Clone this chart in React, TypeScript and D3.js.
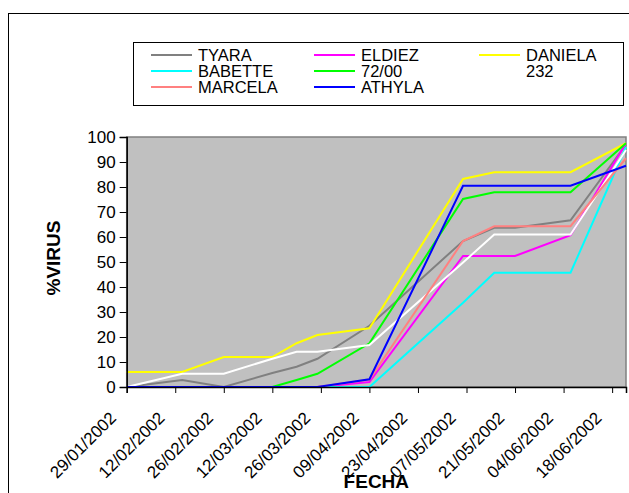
import { useEffect, useRef } from "react";
import * as d3 from "d3";

const fechas = [
  "29/01/2002", "14/02/2002", "26/02/2002", "12/03/2002", "19/03/2002", "25/03/2002",
  "09/04/2002", "06/05/2002", "15/05/2002", "21/05/2002", "06/06/2002", "22/06/2002",
];

const tickFechas = [
  "29/01/2002", "12/02/2002", "26/02/2002", "12/03/2002", "26/03/2002", "09/04/2002",
  "23/04/2002", "07/05/2002", "21/05/2002", "04/06/2002", "18/06/2002",
];

const tyara = [0, 2.8, 0, 5.6, 8.1, 11.3, 24.5, 58.4, 63.7, 63.7, 66.7, 97];
const eldiez = [0, 0, 0, 0, 0, 0, 2, 52.4, 52.4, 52.4, 60.7, 97.5];
const daniela = [6, 6, 12, 12, 17.5, 20.8, 23.5, 83.2, 85.9, 85.9, 85.9, 97.5];
const babette = [0, 0, 0, 0, 0, 0, 0, 33.7, 45.7, 45.7, 45.7, 96];
const s7200 = [0, 0, 0, 0, 2.8, 5.3, 17.5, 75.2, 77.9, 77.9, 77.9, 97.5];
const s232 = [0, 5.3, 5.3, 11.3, 14.1, 14.1, 16.8, 49.8, 61, 61, 61, 94.8];
const marcela = [0, 0, 0, 0, 0, 0, 3, 58.4, 64.3, 64.3, 64.3, 91.5];
const athyla = [0, 0, 0, 0, 0, 0, 3.1, 80.5, 80.5, 80.5, 80.5, 88.5];

const seriesNames = ["TYARA", "ELDIEZ", "DANIELA", "BABETTE", "72/00", "232", "MARCELA", "ATHYLA"];
const seriesValues = [tyara, eldiez, daniela, babette, s7200, s232, marcela, athyla];
const seriesColors = ["#808080", "#ff00ff", "#ffff00", "#00ffff", "#00ff00", "#ffffff", "#ff8080", "#0000ff"];

const yTicks = [0, 10, 20, 30, 40, 50, 60, 70, 80, 90, 100];

export default function App() {
  const ref = useRef<SVGSVGElement>(null);

  useEffect(() => {
    if (!ref.current) return;
    const svg = d3.select(ref.current);
    svg.selectAll("*").remove();

    const font = "'Liberation Sans', Arial, sans-serif";
    const parse = d3.utcParse("%d/%m/%Y");
    const fmt = d3.utcFormat("%d/%m/%Y");
    const dates = fechas.map((d) => parse(d) as Date);
    const ticks = tickFechas.map((d) => parse(d) as Date);

    const plot = { left: 126.7, right: 626, top: 137, bottom: 387 };

    // outer chart frame (runs off the picture on the right and bottom)
    svg.append("rect")
      .attr("x", 8.5).attr("y", 13.5)
      .attr("width", 640).attr("height", 500)
      .attr("fill", "#fff").attr("stroke", "#000").attr("stroke-width", 1);

    const x = d3.scaleUtc()
      .domain([dates[0], dates[dates.length - 1]])
      .range([plot.left, plot.right]);
    const y = d3.scaleLinear().domain([0, 100]).range([plot.bottom, plot.top]);

    svg.append("rect")
      .attr("x", plot.left).attr("y", plot.top)
      .attr("width", plot.right - plot.left).attr("height", plot.bottom - plot.top)
      .attr("fill", "#c0c0c0").attr("stroke", "#808080").attr("stroke-width", 1.5);

    const line = d3.line<number>()
      .x((_, i) => x(dates[i]))
      .y((d) => y(d));

    seriesValues.forEach((vals, i) => {
      svg.append("path")
        .datum(vals)
        .attr("d", line)
        .attr("fill", "none")
        .attr("stroke", seriesColors[i])
        .attr("stroke-width", 2)
        .attr("stroke-linejoin", "miter");
    });

    // y axis
    const yAxis = svg.append("g")
      .attr("transform", `translate(${plot.left},0)`)
      .call(d3.axisLeft(y).tickValues(yTicks).tickSize(7).tickPadding(4));
    yAxis.select(".domain").attr("stroke", "#000").attr("stroke-width", 1.5);
    yAxis.selectAll(".tick line").attr("stroke", "#000");
    yAxis.selectAll("text")
      .attr("font-family", font).attr("font-size", 17).attr("fill", "#000");

    // x axis
    const xAxis = svg.append("g")
      .attr("transform", `translate(0,${plot.bottom})`)
      .call(d3.axisBottom(x).tickValues(ticks).tickSize(6).tickFormat((d) => fmt(d as Date)));
    xAxis.select(".domain").attr("stroke", "#000").attr("stroke-width", 1.5);
    xAxis.selectAll(".tick line").attr("stroke", "#000");
    xAxis.selectAll("text")
      .attr("font-family", font).attr("font-size", 17).attr("fill", "#000")
      .attr("text-anchor", "end")
      .attr("dy", null)
      .attr("y", null)
      .attr("transform", "translate(-10,32) rotate(-45)");

    svg.append("text")
      .attr("x", (plot.left + plot.right) / 2).attr("y", 488)
      .attr("text-anchor", "middle")
      .attr("font-family", font).attr("font-size", 19).attr("font-weight", "bold")
      .text("FECHA");

    svg.append("text")
      .attr("transform", "translate(60,258) rotate(-90)")
      .attr("text-anchor", "middle")
      .attr("font-family", font).attr("font-size", 19).attr("font-weight", "bold")
      .text("%VIRUS");

    // legend
    const lg = svg.append("g");
    lg.append("rect")
      .attr("x", 133.5).attr("y", 42.5).attr("width", 490).attr("height", 63)
      .attr("fill", "#fff").attr("stroke", "#000").attr("stroke-width", 1);
    const colX = [151, 314, 479];
    const rowY = [55, 71, 87];
    seriesNames.forEach((name, i) => {
      const cx = colX[i % 3];
      const cy = rowY[Math.floor(i / 3)];
      lg.append("line")
        .attr("x1", cx).attr("x2", cx + 41).attr("y1", cy).attr("y2", cy)
        .attr("stroke", seriesColors[i]).attr("stroke-width", 2);
      lg.append("text")
        .attr("x", cx + 47).attr("y", cy + 6)
        .attr("font-family", font).attr("font-size", 16.5).attr("fill", "#000")
        .text(name);
    });
  }, []);

  return (
    <svg
      ref={ref}
      width={629}
      height={493}
      style={{ position: "absolute", left: 0, top: 0, background: "#fff" }}
    />
  );
}
